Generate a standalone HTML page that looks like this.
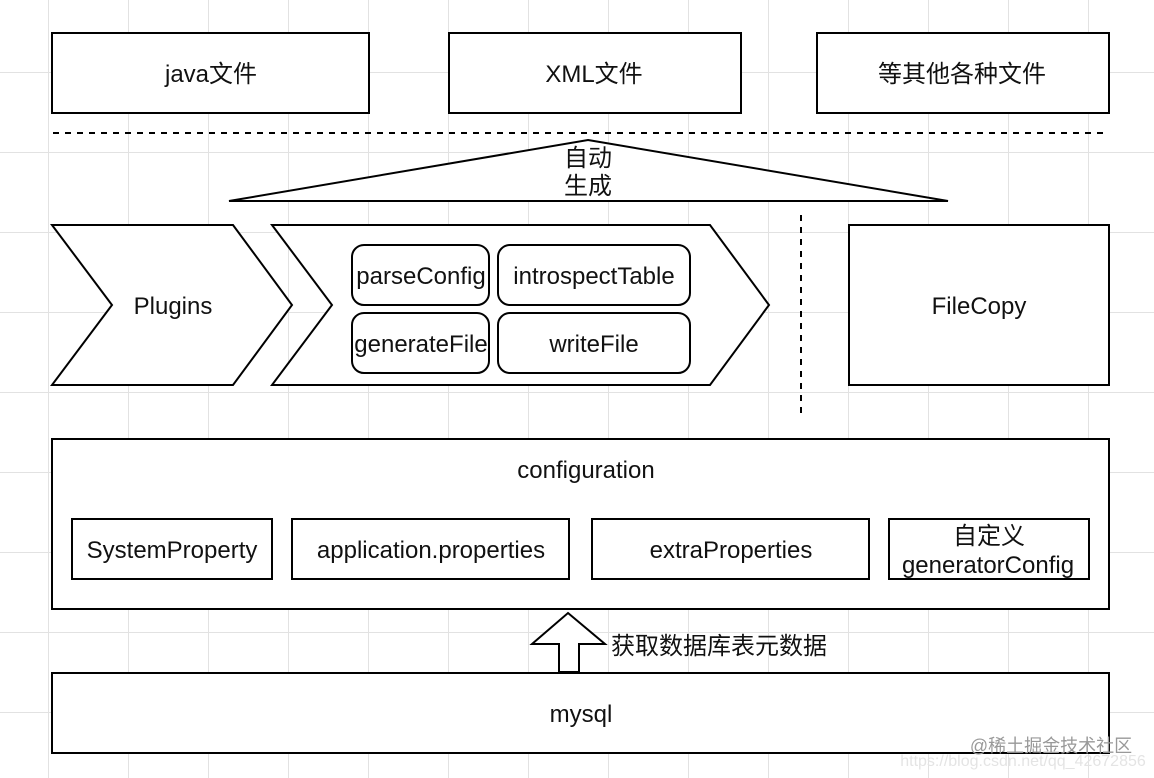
<!DOCTYPE html>
<html><head><meta charset="utf-8">
<style>
html,body{margin:0;padding:0;background:#fff;width:1154px;height:778px;overflow:hidden}
svg{display:block}
text{font-family:"Liberation Sans","Noto Sans CJK SC",sans-serif;font-size:24px;fill:#111;text-anchor:middle}
.s{fill:#fff;stroke:#000;stroke-width:2}
</style></head><body>
<svg width="1154" height="778" viewBox="0 0 1154 778" xmlns="http://www.w3.org/2000/svg">
<g stroke="#e2e2e2" stroke-width="1">
<path d="M48.5 0V778M128.5 0V778M208.5 0V778M288.5 0V778M368.5 0V778M448.5 0V778M528.5 0V778M608.5 0V778M688.5 0V778M768.5 0V778M848.5 0V778M928.5 0V778M1008.5 0V778M1088.5 0V778"/>
<path d="M0 72.5H1154M0 152.5H1154M0 232.5H1154M0 312.5H1154M0 392.5H1154M0 472.5H1154M0 552.5H1154M0 632.5H1154M0 712.5H1154"/>
</g>
<rect class="s" x="52" y="33" width="317" height="80"/>
<rect class="s" x="449" y="33" width="292" height="80"/>
<rect class="s" x="817" y="33" width="292" height="80"/>
<text x="211" y="82">java文件</text>
<text x="594" y="82">XML文件</text>
<text x="962" y="82">等其他各种文件</text>
<path d="M53 133H1103" stroke="#000" stroke-width="2" stroke-dasharray="6 6" fill="none"/>
<polygon class="s" points="588,140 948,201 229,201"/>
<text x="588" y="166">自动</text>
<text x="588" y="194">生成</text>
<polygon class="s" points="52,225 233,225 292,305 233,385 52,385 112,305"/>
<text x="173" y="314">Plugins</text>
<polygon class="s" points="272,225 710,225 769,305 710,385 272,385 332,305"/>
<rect class="s" x="352" y="245" width="137" height="60" rx="12"/>
<rect class="s" x="498" y="245" width="192" height="60" rx="12"/>
<rect class="s" x="352" y="313" width="137" height="60" rx="12"/>
<rect class="s" x="498" y="313" width="192" height="60" rx="12"/>
<text x="421" y="284">parseConfig</text>
<text x="594" y="284">introspectTable</text>
<text x="421" y="352">generateFile</text>
<text x="594" y="352">writeFile</text>
<path d="M801 215V413" stroke="#000" stroke-width="2" stroke-dasharray="6 6" fill="none"/>
<rect class="s" x="849" y="225" width="260" height="160"/>
<text x="979" y="314">FileCopy</text>
<rect class="s" x="52" y="439" width="1057" height="170"/>
<text x="586" y="478">configuration</text>
<rect class="s" x="72" y="519" width="200" height="60"/>
<rect class="s" x="292" y="519" width="277" height="60"/>
<rect class="s" x="592" y="519" width="277" height="60"/>
<rect class="s" x="889" y="519" width="200" height="60"/>
<text x="172" y="558">SystemProperty</text>
<text x="431" y="558">application.properties</text>
<text x="731" y="558">extraProperties</text>
<text x="989" y="544">自定义</text>
<text x="988" y="573">generatorConfig</text>
<polygon class="s" points="568,613 605,644 579,644 579,672 559,672 559,644 532,644"/>
<text x="719" y="654">获取数据库表元数据</text>
<rect class="s" x="52" y="673" width="1057" height="80"/>
<text x="581" y="722">mysql</text>
<text x="1051" y="752" style="font-size:18px;fill:#999">@稀土掘金技术社区</text>
<text x="1023" y="766" style="font-size:16px;fill:#e4e4e4">https://blog.csdn.net/qq_42672856</text>
</svg>
</body></html>
